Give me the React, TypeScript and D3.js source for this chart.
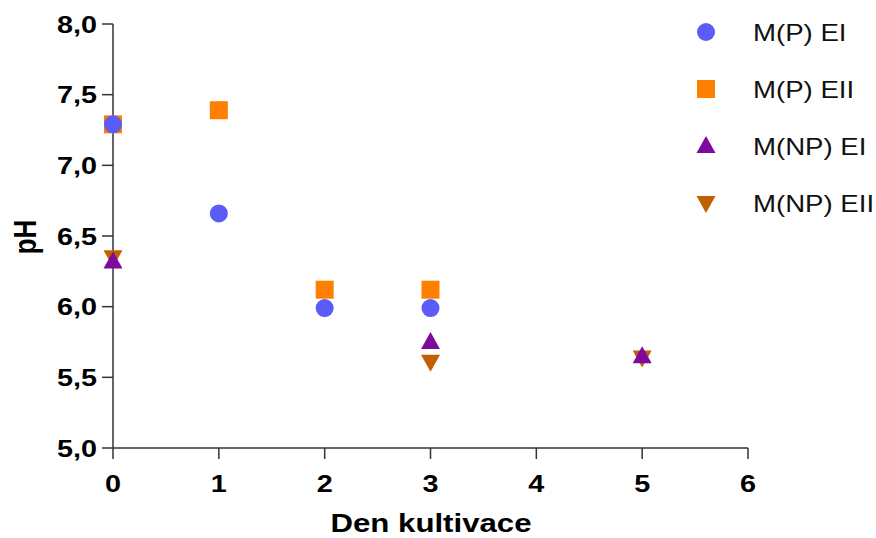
import React from "react";
import * as d3 from "d3";

// Cultivation day (x) and measured pH (y) per culture
const daysPEI = [0, 1, 2, 3];
const phPEI = [7.29, 6.66, 5.99, 5.99];

const daysPEII = [0, 1, 2, 3];
const phPEII = [7.29, 7.39, 6.12, 6.12];

const daysNPEI = [0, 3, 5];
const phNPEI = [6.32, 5.75, 5.65];

const daysNPEII = [0, 3, 5];
const phNPEII = [6.35, 5.61, 5.64];

const seriesNames = ["M(P) EI", "M(P) EII", "M(NP) EI", "M(NP) EII"];
const xTicks = [0, 1, 2, 3, 4, 5, 6];
const yTicks = [5.0, 5.5, 6.0, 6.5, 7.0, 7.5, 8.0];

const W = 876;
const H = 538;
const FONT = "'Liberation Sans', Arial, sans-serif";
const STRETCH = 1.2;
const AXIS = "#333";

type Shape = "circle" | "square" | "triangle" | "triangleDown";

const styles: { shape: Shape; color: string }[] = [
  { shape: "circle", color: "#5b5bf8" },
  { shape: "square", color: "#ff8000" },
  { shape: "triangle", color: "#7d0a9c" },
  { shape: "triangleDown", color: "#c06000" },
];

function Marker({ shape, color, x, y }: { shape: Shape; color: string; x: number; y: number }) {
  if (shape === "circle") return <circle cx={x} cy={y} r={9} fill={color} />;
  if (shape === "square") return <rect x={x - 9} y={y - 9} width={18} height={18} fill={color} />;
  if (shape === "triangle")
    return <path d={`M${x},${y - 10}L${x + 9.5},${y + 7}L${x - 9.5},${y + 7}Z`} fill={color} />;
  return <path d={`M${x},${y + 10}L${x + 9.5},${y - 7}L${x - 9.5},${y - 7}Z`} fill={color} />;
}

export default function App() {
  const x = d3.scaleLinear().domain([0, 6]).range([113, 748]);
  const y = d3.scaleLinear().domain([5, 8]).range([448, 24]);
  const fmt = (v: number) => d3.format(".1f")(v).replace(".", ",");

  const series = [
    { days: daysPEI, ph: phPEI, ...styles[0] },
    { days: daysPEII, ph: phPEII, ...styles[1] },
    { days: daysNPEI, ph: phNPEI, ...styles[2] },
    { days: daysNPEII, ph: phNPEII, ...styles[3] },
  ];
  // drawing order: squares under circles, inverted triangles under triangles
  const drawOrder = [1, 0, 3, 2];

  return (
    <svg width={W} height={H} style={{ position: "absolute", left: 0, top: 0, background: "#fff" }}>
      <rect width={W} height={H} fill="#fff" />
      {/* axes */}
      <line x1={x(0)} x2={x(0)} y1={y(8)} y2={y(5)} stroke={AXIS} strokeWidth={1.5} />
      <line x1={x(0)} x2={x(6)} y1={y(5)} y2={y(5)} stroke={AXIS} strokeWidth={1.5} />
      {yTicks.map((t) => (
        <g key={"y" + t}>
          <line x1={x(0) - 11} x2={x(0)} y1={y(t)} y2={y(t)} stroke={AXIS} strokeWidth={1.5} />
          <text
            transform={`translate(97,${y(t) + 8.5}) scale(${STRETCH},1)`}
            textAnchor="end"
            fontFamily={FONT}
            fontWeight="bold"
            fontSize={24}
            fill="#000"
          >
            {fmt(t)}
          </text>
        </g>
      ))}
      {xTicks.map((t) => (
        <g key={"x" + t}>
          <line x1={x(t)} x2={x(t)} y1={y(5)} y2={y(5) + 11} stroke={AXIS} strokeWidth={1.5} />
          <text
            transform={`translate(${x(t)},492) scale(${STRETCH},1)`}
            textAnchor="middle"
            fontFamily={FONT}
            fontWeight="bold"
            fontSize={24}
            fill="#000"
          >
            {t}
          </text>
        </g>
      ))}
      <text
        transform={`translate(431,532) scale(${STRETCH},1)`}
        textAnchor="middle"
        fontFamily={FONT}
        fontWeight="bold"
        fontSize={26}
        fill="#000"
      >
        Den kultivace
      </text>
      <text
        transform={`translate(36,237) scale(${STRETCH},1) rotate(-90)`}
        textAnchor="middle"
        fontFamily={FONT}
        fontWeight="bold"
        fontSize={26}
        fill="#000"
      >
        pH
      </text>

      {/* data points */}
      {drawOrder.map((i) => {
        const s = series[i];
        return (
          <g key={"s" + i}>
            {s.days.map((d, j) => (
              <Marker key={j} shape={s.shape} color={s.color} x={x(d)} y={y(s.ph[j])} />
            ))}
          </g>
        );
      })}

      {/* legend */}
      {seriesNames.map((name, i) => {
        const cy = 32 + i * 57;
        return (
          <g key={"l" + i}>
            <Marker shape={styles[i].shape} color={styles[i].color} x={706} y={cy} />
            <text
              transform={`translate(753,${cy + 8.5}) scale(${STRETCH},1)`}
              fontFamily={FONT}
              fontSize={23}
              fill="#111"
            >
              {name}
            </text>
          </g>
        );
      })}
    </svg>
  );
}
